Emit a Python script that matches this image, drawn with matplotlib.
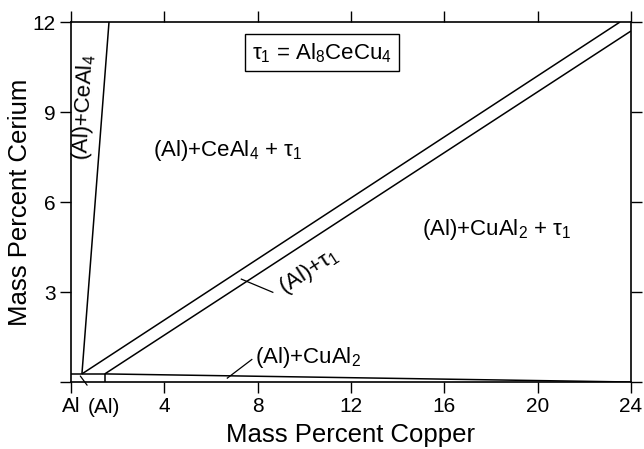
import matplotlib
matplotlib.use("Agg")
import matplotlib.pyplot as plt

plt.rcParams['font.family'] = ['Liberation Sans', 'DejaVu Sans']
plt.rcParams['mathtext.fontset'] = 'custom'
plt.rcParams['mathtext.rm'] = 'Liberation Sans'
plt.rcParams['mathtext.it'] = 'Liberation Sans'
plt.rcParams['mathtext.bf'] = 'Liberation Sans:bold'

# phase boundaries (mass % Cu, mass % Ce)
solvus_x = [0.0, 1.45]
solvus_y = [0.27, 0.27]
cual2_x = [1.45, 24.0]
cual2_y = [0.27, 0.0]
vert_x = [1.45, 1.45]
vert_y = [0.0, 0.27]
ceal4_x = [0.47, 1.63]
ceal4_y = [0.27, 12.0]
tau_up_x = [0.47, 23.53]
tau_up_y = [0.27, 12.0]
tau_lo_x = [1.45, 24.0]
tau_lo_y = [0.27, 11.7]

x_ticks = [0, 4, 8, 12, 16, 20, 24]
x_labels = ['Al', '4', '8', '12', '16', '20', '24']
y_ticks = [0, 3, 6, 9, 12]
y_labels = ['', '3', '6', '9', '12']

fig = plt.figure(figsize=(6.44, 4.49), dpi=100)
ax = fig.add_axes([0.1102, 0.1492, 0.8696, 0.8018])

for xs, ys in [(solvus_x, solvus_y), (cual2_x, cual2_y), (vert_x, vert_y),
               (ceal4_x, ceal4_y), (tau_up_x, tau_up_y), (tau_lo_x, tau_lo_y)]:
    ax.plot(xs, ys, color='black', lw=1.1, solid_capstyle='butt')

ax.set_xlim(0, 24)
ax.set_ylim(0, 12)
ax.set_xticks(x_ticks)
ax.set_xticklabels(x_labels)
ax.set_yticks(y_ticks)
ax.set_yticklabels(y_labels)
ax.tick_params(direction='out', length=8, width=1.0, labelsize=15,
               top=True, right=True, pad=3)
for s in ax.spines.values():
    s.set_linewidth(1.2)

ax.set_xlabel('Mass Percent Copper', fontsize=18.5, labelpad=5)
ax.set_ylabel('Mass Percent Cerium', fontsize=18.5, labelpad=0.5)

# region labels
fs = 16
ax.text(0.58, 9.15, '(Al)+CeAl$_4$', fontsize=fs, rotation=87,
        ha='center', va='center')
ax.text(6.7, 7.73, '(Al)+CeAl$_4$ + τ$_1$', fontsize=fs, ha='center', va='center')
ax.text(18.26, 5.07, '(Al)+CuAl$_2$ + τ$_1$', fontsize=fs, ha='center', va='center')
ax.text(10.2, 3.7, '(Al)+τ$_1$', fontsize=fs, rotation=33,
        ha='center', va='center')
ax.plot([7.3, 8.65], [3.43, 2.99], color='black', lw=0.9)
ax.text(10.16, 0.83, '(Al)+CuAl$_2$', fontsize=fs, ha='center', va='center')
ax.plot([6.7, 7.75], [0.13, 0.75], color='black', lw=0.9)
ax.text(10.76, 10.97, 'τ$_1$ = Al$_8$CeCu$_4$', fontsize=fs, ha='center',
        va='center', bbox=dict(boxstyle='square,pad=0.3', fc='white',
                               ec='black', lw=1.0))
ax.annotate('(Al)', xy=(0.4, 0.2), xytext=(1.4, -0.85), fontsize=15,
            ha='center', va='center', annotation_clip=False,
            arrowprops=dict(arrowstyle='-', lw=0.9, color='black',
                            shrinkA=9, shrinkB=0))

fig.savefig('out.png', dpi=100)
